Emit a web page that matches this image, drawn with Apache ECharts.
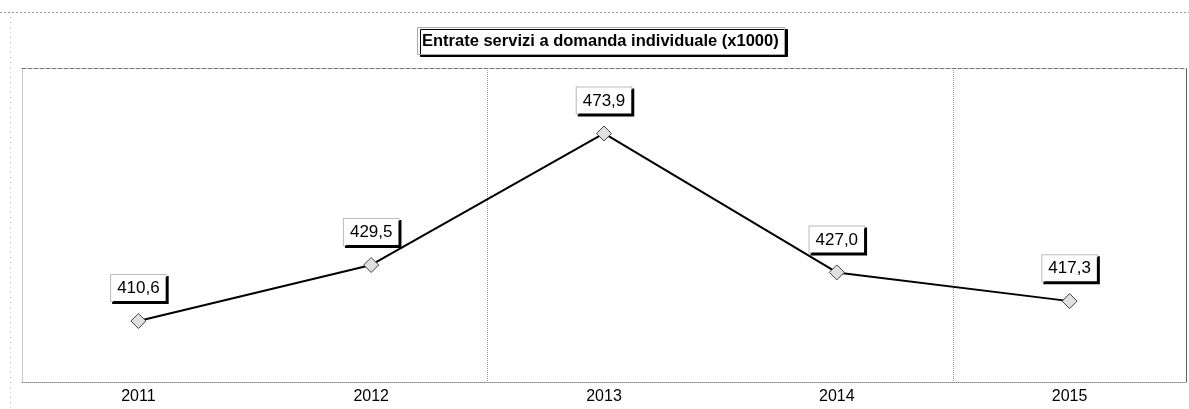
<!DOCTYPE html>
<html>
<head>
<meta charset="utf-8">
<script src="https://cdn.jsdelivr.net/npm/echarts@6/dist/echarts.min.js"></script>
<style>
html,body{margin:0;padding:0;background:#fff;}
#chart{width:1189px;height:409px;}
</style>
</head>
<body>
<div id="chart"></div>
<script>
const titleText = 'Entrate servizi a domanda individuale (x1000)';
const categories = ['2011', '2012', '2013', '2014', '2015'];
const values = [410.6, 429.5, 473.9, 427.0, 417.3];

const FONT = '"Liberation Sans", Arial, sans-serif';
const chart = echarts.init(document.getElementById('chart'), null, {renderer: 'canvas'});

chart.setOption({
  animation: false,
  backgroundColor: '#fff',
  title: {
    text: titleText,
    left: 417,
    top: 27,
    padding: [6, 6, 5, 5],
    backgroundColor: '#fff',
    borderColor: '#aaa',
    borderWidth: 1,
    shadowColor: '#000',
    shadowBlur: 0,
    shadowOffsetX: 3,
    shadowOffsetY: 2,
    textStyle: {fontFamily: FONT, fontSize: 16.5, fontWeight: 'bold', color: '#000'}
  },
  graphic: [
    {type: 'line', shape: {x1: 0, y1: 12.5, x2: 1189, y2: 12.5}, style: {stroke: '#999', lineWidth: 1, lineDash: [2, 2]}},
    {type: 'line', shape: {x1: 10.5, y1: 12, x2: 10.5, y2: 409}, style: {stroke: '#bbb', lineWidth: 1, lineDash: [1, 4]}}
  ],
  grid: {left: 22, right: 3, top: 68, bottom: 27, containLabel: false},
  xAxis: [{
    type: 'category',
    data: categories,
    boundaryGap: true,
    axisLine: {show: true, lineStyle: {color: '#888', width: 1, type: 'dotted'}},
    axisTick: {show: false},
    axisLabel: {fontFamily: FONT, fontSize: 16, color: '#000', margin: 7},
    splitLine: {
      show: true,
      interval: function (idx) { return idx === 2 || idx === 4; },
      lineStyle: {color: '#999', type: 'dotted', width: 1}
    }
  }, {
    type: 'category',
    data: categories,
    position: 'top',
    axisLine: {show: true, lineStyle: {color: '#777', width: 1, type: 'dashed'}},
    axisTick: {show: false},
    axisLabel: {show: false},
    splitLine: {show: false}
  }],
  yAxis: [{
    type: 'value',
    min: 390,
    max: 496,
    axisLine: {show: true, lineStyle: {color: '#bbb', type: 'dotted'}},
    axisTick: {show: false},
    axisLabel: {show: false},
    splitLine: {show: false}
  }, {
    type: 'value',
    min: 390,
    max: 496,
    position: 'right',
    axisLine: {show: true, lineStyle: {color: '#555', type: 'dotted'}},
    axisTick: {show: false},
    axisLabel: {show: false},
    splitLine: {show: false}
  }],
  series: [{
    type: 'line',
    data: values,
    xAxisIndex: 0,
    yAxisIndex: 0,
    symbol: 'diamond',
    symbolSize: 15,
    lineStyle: {color: '#000', width: 2},
    itemStyle: {color: '#e0e0e0', borderColor: '#444', borderWidth: 1},
    label: {
      show: true,
      position: 'top',
      distance: 12,
      formatter: function (p) { return p.value.toFixed(1).replace('.', ','); },
      fontFamily: FONT,
      fontSize: 17,
      color: '#000',
      backgroundColor: '#fff',
      borderColor: '#bbb',
      borderWidth: 1,
      padding: [5, 6, 4, 6],
      shadowColor: '#000',
      shadowBlur: 0,
      shadowOffsetX: 2,
      shadowOffsetY: 2
    }
  }]
});
</script>
</body>
</html>
